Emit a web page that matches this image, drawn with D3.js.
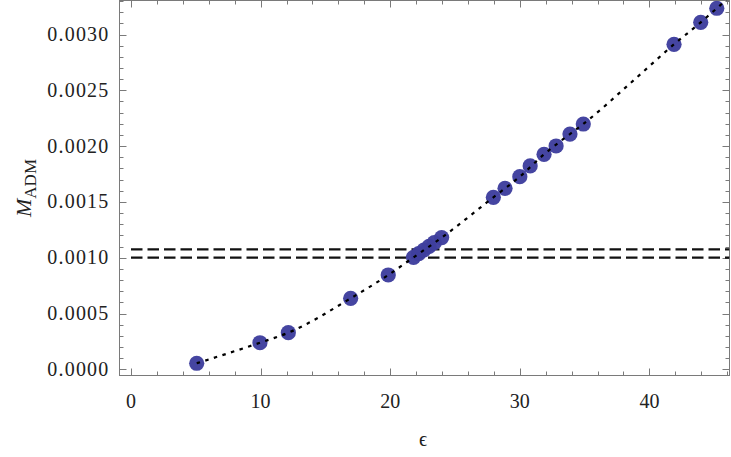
<!DOCTYPE html>
<html><head><meta charset="utf-8">
<script src="https://cdn.jsdelivr.net/npm/d3@7"></script>
<style>body{margin:0;background:#fff}svg{display:block}
.f{font-family:"Liberation Serif", "Times New Roman", Times, serif}</style>
</head><body>
<svg id="c" width="731" height="457"></svg>
<script>
const eps   = [5.07, 9.95, 12.14, 16.95, 19.85, 21.8, 22.2, 22.6, 23.0, 23.4, 23.97, 27.96, 28.86, 30.0, 30.8, 31.87, 32.8, 33.87, 34.9, 41.9, 43.96, 45.2];
const madm  = [0.000054, 0.000238, 0.000328, 0.000636, 0.000845, 0.001003, 0.001036, 0.001069, 0.001102, 0.001135, 0.001180, 0.001541, 0.001622, 0.001726, 0.001822, 0.001926, 0.002001, 0.002108, 0.002198, 0.002912, 0.003109, 0.003235];
const fitEps  = [5.07, 9.95, 12.14, 16.95, 19.85, 21.8, 23.97, 27.96, 30.0, 31.87, 33.87, 34.9, 38.5, 41.9, 43.96, 45.2, 46.3];
const fitMadm = [0.000054, 0.000238, 0.000328, 0.000636, 0.000845, 0.001003, 0.00118, 0.001541, 0.001726, 0.001926, 0.002108, 0.002198, 0.00256, 0.002912, 0.003109, 0.003235, 0.00335];
const hLines  = [0.001, 0.001075];
const xTicks  = [0, 10, 20, 30, 40];
const yTicks  = [0, 0.0005, 0.001, 0.0015, 0.002, 0.0025, 0.003];
const yTickLabels = ["0.0000","0.0005","0.0010","0.0015","0.0020","0.0025","0.0030"];

const svg = d3.select("#c");
const L = 119.5, R = 729.5, T = 0.5, B = 375.5;
const x = d3.scaleLinear().domain([0, 40]).range([131, 649.4]);
const y = d3.scaleLinear().domain([0, 0.003]).range([369.3, 34.5]);
const xMin = x.invert(L), xMax = x.invert(R), yMax = y.invert(T);

const axisColor = "#7a7a7a";

svg.append("defs").append("clipPath").attr("id","clip")
  .append("rect").attr("x",L).attr("y",T).attr("width",R-L).attr("height",B-T);

svg.append("rect").attr("x",L).attr("y",T).attr("width",R-L).attr("height",B-T)
  .attr("fill","none").attr("stroke",axisColor).attr("stroke-width",1);

const xMinor = d3.range(0, 48, 2).filter(v => v >= xMin && v <= xMax);
const yMinor = d3.range(0, 34).map(i => i*0.0001).filter(v => v <= yMax);
const tg = svg.append("g").attr("stroke",axisColor).attr("stroke-width",1);
xMinor.forEach(v => {
  const major = v % 10 === 0, len = major ? 7 : 4, px = Math.round(x(v))+0.5;
  tg.append("line").attr("x1",px).attr("x2",px).attr("y1",B).attr("y2",B-len);
  tg.append("line").attr("x1",px).attr("x2",px).attr("y1",T).attr("y2",T+len);
});
yMinor.forEach((v,i) => {
  const major = i % 5 === 0, len = major ? 7 : 4, py = Math.round(y(v))+0.5;
  tg.append("line").attr("x1",L).attr("x2",L+len).attr("y1",py).attr("y2",py);
  tg.append("line").attr("x1",R).attr("x2",R-len).attr("y1",py).attr("y2",py);
});

svg.append("g").selectAll("text").data(xTicks).join("text").attr("class","f")
  .attr("x", d => x(d)).attr("y", 408).attr("text-anchor","middle")
  .attr("font-size",20).attr("fill","#222")
  .text(d => d);
svg.append("g").selectAll("text").data(yTicks).join("text").attr("class","f")
  .attr("x", 109.5).attr("y", d => y(d)+6.5).attr("text-anchor","end")
  .attr("font-size",20).attr("letter-spacing",1.2).attr("fill","#222")
  .text((d,i) => yTickLabels[i]);

svg.append("text").attr("class","f").attr("x",423).attr("y",446).attr("text-anchor","middle")
  .attr("font-size",20).attr("fill","#222").text("ϵ");
const yl = svg.append("text").attr("class","f").attr("transform","translate(31,188) rotate(-90)")
  .attr("text-anchor","middle").attr("fill","#222");
yl.append("tspan").attr("font-style","italic").attr("font-size",22).text("M");
yl.append("tspan").attr("font-size",17).attr("dy",5).text("ADM");

const plot = svg.append("g").attr("clip-path","url(#clip)");

plot.selectAll("line.h").data(hLines).join("line").attr("class","h")
  .attr("x1", x(0)).attr("x2", R).attr("y1", d => y(d)).attr("y2", d => y(d))
  .attr("stroke","#111").attr("stroke-width",2.2).attr("stroke-dasharray","11.5,5");

plot.selectAll("circle").data(eps).join("circle")
  .attr("cx", d => x(d)).attr("cy", (d,i) => y(madm[i])).attr("r",7.6)
  .attr("fill","#3f3f9e").attr("fill-opacity",0.97);

const line = d3.line().x(d => x(d[0])).y(d => y(d[1])).curve(d3.curveMonotoneX);
plot.append("path").datum(fitEps.map((e,i)=>[e,fitMadm[i]]))
  .attr("d", line).attr("fill","none").attr("stroke","#000")
  .attr("stroke-width",2.2).attr("stroke-dasharray","3.5,5.5");
</script>
</body></html>
